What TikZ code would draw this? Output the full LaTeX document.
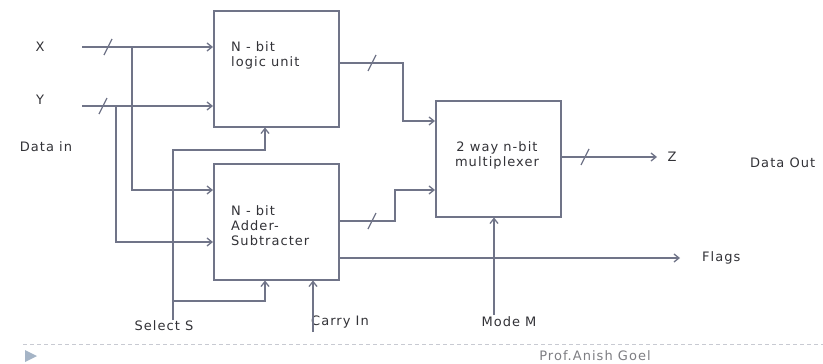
\documentclass[tikz,border=0pt]{standalone}
\usepackage{fontspec}
\setmainfont{DejaVu Sans}[LetterSpace=8.0]
\usetikzlibrary{arrows.meta,calc}
\definecolor{linec}{RGB}{112,116,136}
\definecolor{txtc}{RGB}{50,50,55}
\definecolor{footc}{RGB}{125,125,130}
\definecolor{dashc}{RGB}{200,202,210}
\definecolor{tric}{RGB}{165,180,198}
\begin{document}
\begin{tikzpicture}[x=1pt,y=-1pt,
  wire/.style={draw=linec,line width=1.3pt},
  arr/.style={wire,-{Straight Barb[length=5pt,width=8pt]}},
  box/.style={draw=linec,line width=1.5pt,minimum width=125pt,minimum height=116pt,anchor=north west,inner sep=0pt},
  lbl/.style={text=txtc,font=\fontsize{13}{15}\selectfont,inner sep=0pt},
  bus/.style={wire}]
\useasboundingbox (0,0) rectangle (823,364);
% boxes
\node[box] (logic) at (213,10) {};
\node[box] (adder) at (213,163) {};
\node[box] (mux) at (435,100) {};
% box texts
\node[lbl,anchor=west,align=left] (logict) at (231,55) {N - bit\\logic unit};
\node[lbl,anchor=west,align=left] (addert) at (231,226) {N - bit\\Adder-\\Subtracter};
\node[lbl,align=center] (muxt) at (497,155) {2 way n-bit\\multiplexer};
% labels
\node[lbl] (X) at (40,47) {X};
\node[lbl] (Y) at (40,100) {Y};
\node[lbl] (datain) at (46,147) {Data in};
\node[lbl] (selS) at (164,326) {Select S};
\node[lbl] (carry) at (340,322) {Carry In};
\node[lbl] (mode) at (509,322) {Mode M};
\node[lbl,anchor=west] (flags) at (702,258) {Flags};
\node[lbl] (Z) at (672,157) {Z};
\node[lbl,anchor=west] (dout) at (750,163) {Data Out};
\node[lbl,text=footc] (prof) at (595,356) {Prof.Anish Goel};
% coordinates
\coordinate (xin) at (82,47);
\coordinate (yin) at (82,106);
\coordinate (xb) at (132,47);
\coordinate (yb) at (116,106);
\coordinate (s0) at (173,320);
\coordinate (s1) at (173,150);
\coordinate (s2) at (173,301);
\coordinate (sx) at (265,0);
\coordinate (ci) at (313,332);
\coordinate (mm) at (494,315);
\coordinate (lo) at (403,63);
\coordinate (ao) at (395,221);
\coordinate (zo) at (657,157);
\coordinate (fo) at (680,258);
% inputs
\draw[arr] (xin) -- (xin -| logic.west);
\draw[arr] (yin) -- (yin -| logic.west);
\draw[arr] (xb) |- (adder.west |- 0,190);
\draw[arr] (yb) |- (adder.west |- 0,242);
% select
\draw[arr] (s0) -- (s1) -| (sx |- logic.south);
\draw[arr] (s2) -| (sx |- adder.south);
% carry and mode
\draw[arr] (ci) -- (ci |- adder.south);
\draw[arr] (mm) -- (mm |- mux.south);
% outputs
\draw[arr] (logic.east |- lo) -- (lo) |- (mux.west |- 0,121);
\draw[arr] (adder.east |- ao) -- (ao) |- (mux.west |- 0,190);
\draw[arr] (adder.east |- fo) -- (fo);
\draw[arr] (mux.east |- zo) -- (zo);
% bus slashes
\foreach \a/\b in {108/47,103/106,372/63,372/221,585/157}{
  \draw[bus] (\a-4,\b+8) -- (\a+4,\b-8);
}
% footer
\draw[dashc,line width=0.8pt,dash pattern=on 4pt off 3pt] (23,344) -- (823,344);
\fill[tric] (25,350) -- (37,356) -- (25,362) -- cycle;
\end{tikzpicture}
\end{document}
